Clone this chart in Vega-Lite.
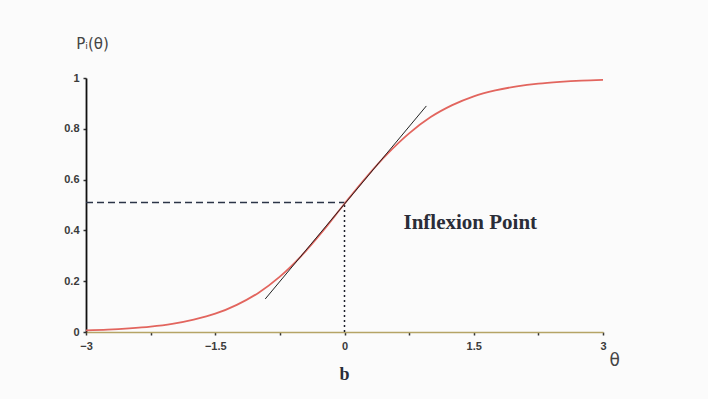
{
  "$schema": "https://vega.github.io/schema/vega-lite/v6.json",
  "width": 517,
  "height": 254,
  "autosize": {"type": "none"},
  "padding": {"left": 86, "top": 78, "right": 105, "bottom": 67},
  "background": "#fbfbfb",
  "config": {"view": {"stroke": null}},
  "datasets": {
    "curve": [
      {"theta": -3, "p": 0.006}, {"theta": -2.75, "p": 0.009}, {"theta": -2.5, "p": 0.014},
      {"theta": -2.25, "p": 0.021}, {"theta": -2, "p": 0.032}, {"theta": -1.75, "p": 0.049},
      {"theta": -1.5, "p": 0.072}, {"theta": -1.25, "p": 0.107}, {"theta": -1, "p": 0.154},
      {"theta": -0.75, "p": 0.218}, {"theta": -0.5, "p": 0.3}, {"theta": -0.25, "p": 0.398},
      {"theta": 0, "p": 0.505}, {"theta": 0.25, "p": 0.608}, {"theta": 0.5, "p": 0.702},
      {"theta": 0.75, "p": 0.782}, {"theta": 1, "p": 0.846}, {"theta": 1.25, "p": 0.893},
      {"theta": 1.5, "p": 0.928}, {"theta": 1.75, "p": 0.951}, {"theta": 2, "p": 0.967},
      {"theta": 2.25, "p": 0.978}, {"theta": 2.5, "p": 0.985}, {"theta": 2.75, "p": 0.99},
      {"theta": 3, "p": 0.993}
    ],
    "tangent": [{"theta": -0.92, "p": 0.13}, {"theta": 0.95, "p": 0.89}],
    "hdash": [{"theta": -3, "p": 0.51}, {"theta": 0, "p": 0.51}],
    "vdot": [{"theta": 0, "p": 0}, {"theta": 0, "p": 0.51}],
    "notes": [
      {"theta": 1.46, "p": 0.43, "label": "Inflexion Point", "kind": "big"},
      {"theta": 0, "p": -0.17, "label": "b", "kind": "b"}
    ]
  },
  "layer": [
    {
      "data": {"name": "hdash"},
      "mark": {"type": "line", "color": "#2b3447", "strokeWidth": 1.5, "strokeDash": [7, 4]},
      "encoding": {
        "x": {"field": "theta", "type": "quantitative"},
        "y": {"field": "p", "type": "quantitative"}
      }
    },
    {
      "data": {"name": "vdot"},
      "mark": {"type": "line", "color": "#1c1f2a", "strokeWidth": 1.5, "strokeDash": [2, 3]},
      "encoding": {
        "x": {"field": "theta", "type": "quantitative"},
        "y": {"field": "p", "type": "quantitative"}
      }
    },
    {
      "data": {"name": "curve"},
      "mark": {"type": "line", "color": "#e2655e", "strokeWidth": 1.8, "interpolate": "monotone"},
      "encoding": {
        "x": {
          "field": "theta", "type": "quantitative",
          "scale": {"domain": [-3, 3], "nice": false, "zero": false},
          "axis": {
            "values": [-3, -2.625, -2.25, -1.875, -1.5, -1.125, -0.75, -0.375, 0, 0.375, 0.75, 1.125, 1.5, 1.875, 2.25, 2.625, 3],
            "labelExpr": "abs(round(datum.value*1000) % 1500) == 0 ? datum.label : ''",
            "format": "~g",
            "grid": false,
            "domainColor": "#b5a466",
            "domainWidth": 1.6,
            "tickColor": "#333333",
            "tickSize": 3,
            "tickWidth": 1.5,
            "labelFont": "Liberation Sans",
            "labelFontWeight": "bold",
            "labelFontSize": 11,
            "labelColor": "#3a3a3a",
            "labelPadding": 5,
            "labelFlush": false,
            "title": "θ",
            "titleFont": "DejaVu Sans",
            "titleFontWeight": "normal",
            "titleFontSize": 17,
            "titleColor": "#444444",
            "titleAnchor": "end",
            "titleAlign": "left",
            "titleBaseline": "middle",
            "titleX": 523,
            "titleY": 28
          }
        },
        "y": {
          "field": "p", "type": "quantitative",
          "scale": {"domain": [0, 1], "nice": false},
          "axis": {
            "values": [0, 0.05, 0.1, 0.15, 0.2, 0.25, 0.3, 0.35, 0.4, 0.45, 0.5, 0.55, 0.6, 0.65, 0.7, 0.75, 0.8, 0.85, 0.9, 0.95, 1],
            "labelExpr": "abs(round(datum.value*100) % 20) == 0 ? datum.label : ''",
            "format": "~g",
            "grid": false,
            "domainColor": "#111111",
            "domainWidth": 1.8,
            "tickColor": "#333333",
            "tickSize": 3,
            "tickWidth": 1.5,
            "labelFont": "Liberation Sans",
            "labelFontWeight": "bold",
            "labelFontSize": 11,
            "labelColor": "#3a3a3a",
            "labelPadding": 4,
            "labelFlush": false,
            "title": "Pᵢ(θ)",
            "titleFont": "DejaVu Sans",
            "titleFontWeight": "normal",
            "titleFontSize": 15,
            "titleColor": "#444444",
            "titleAngle": 0,
            "titleAlign": "center",
            "titleBaseline": "middle",
            "titleX": 6,
            "titleY": -35
          }
        }
      }
    },
    {
      "data": {"name": "tangent"},
      "mark": {"type": "line", "color": "#222222", "strokeWidth": 1},
      "encoding": {
        "x": {"field": "theta", "type": "quantitative"},
        "y": {"field": "p", "type": "quantitative"}
      }
    },
    {
      "data": {"name": "notes"},
      "transform": [{"filter": "datum.kind == 'big'"}],
      "mark": {"type": "text", "font": "Liberation Serif", "fontWeight": "bold", "fontSize": 21, "color": "#2a2d38", "align": "center", "baseline": "middle", "clip": false},
      "encoding": {
        "x": {"field": "theta", "type": "quantitative"},
        "y": {"field": "p", "type": "quantitative"},
        "text": {"field": "label"}
      }
    },
    {
      "data": {"name": "notes"},
      "transform": [{"filter": "datum.kind == 'b'"}],
      "mark": {"type": "text", "font": "Liberation Serif", "fontWeight": "bold", "fontSize": 18, "color": "#2a2d38", "align": "center", "baseline": "middle", "clip": false},
      "encoding": {
        "x": {"field": "theta", "type": "quantitative"},
        "y": {"field": "p", "type": "quantitative"},
        "text": {"field": "label"}
      }
    }
  ]
}
